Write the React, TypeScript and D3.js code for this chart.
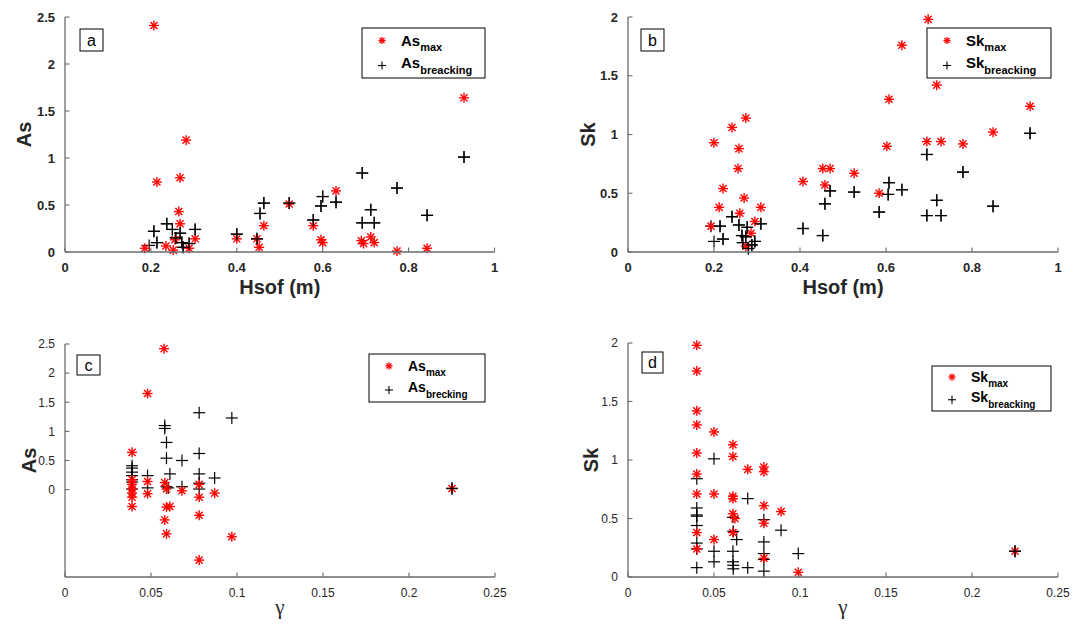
import React from "react";
import * as d3 from "d3";

// Wave asymmetry (As) and skewness (Sk) against offshore wave height and gamma
type Pt = [number, number];

const asMaxHsof: Pt[] = [
  [0.207, 2.41], [0.929, 1.64], [0.282, 1.19], [0.268, 0.79], [0.214, 0.745], [0.631, 0.65],
  [0.522, 0.51], [0.265, 0.43], [0.268, 0.3], [0.463, 0.28], [0.578, 0.28], [0.186, 0.04],
  [0.235, 0.064], [0.252, 0.02], [0.256, 0.13], [0.289, 0.04], [0.303, 0.14], [0.4, 0.14],
  [0.447, 0.14], [0.452, 0.05], [0.596, 0.13], [0.6, 0.1], [0.69, 0.12], [0.695, 0.09],
  [0.712, 0.16], [0.72, 0.1], [0.773, 0.01], [0.843, 0.04],
];
const asBreakHsof: Pt[] = [
  [0.196, 0.07], [0.207, 0.22], [0.214, 0.1], [0.237, 0.3], [0.25, 0.24], [0.258, 0.15],
  [0.268, 0.2], [0.272, 0.1], [0.275, 0.05], [0.289, 0.09], [0.303, 0.24], [0.4, 0.19],
  [0.447, 0.14], [0.454, 0.41], [0.463, 0.52], [0.522, 0.52], [0.578, 0.34], [0.596, 0.49],
  [0.6, 0.59], [0.631, 0.53], [0.692, 0.84], [0.712, 0.45], [0.692, 0.31], [0.72, 0.31],
  [0.773, 0.68], [0.843, 0.39], [0.929, 1.01],
];

const skMaxHsof: Pt[] = [
  [0.274, 1.14], [0.242, 1.06], [0.2, 0.93], [0.258, 0.88], [0.256, 0.71], [0.221, 0.54],
  [0.27, 0.46], [0.212, 0.38], [0.309, 0.38], [0.26, 0.33], [0.295, 0.26], [0.193, 0.22],
  [0.286, 0.16], [0.274, 0.05], [0.407, 0.6], [0.453, 0.71], [0.47, 0.71], [0.458, 0.57],
  [0.698, 1.98], [0.637, 1.76], [0.718, 1.42], [0.607, 1.3], [0.935, 1.24], [0.849, 1.02],
  [0.602, 0.9], [0.695, 0.94], [0.728, 0.94], [0.779, 0.92], [0.526, 0.67], [0.584, 0.5],
];
const skBreakHsof: Pt[] = [
  [0.935, 1.01], [0.695, 0.83], [0.779, 0.68], [0.526, 0.51], [0.607, 0.59], [0.605, 0.49],
  [0.637, 0.53], [0.584, 0.34], [0.718, 0.44], [0.695, 0.31], [0.728, 0.31], [0.849, 0.39],
  [0.47, 0.52], [0.458, 0.41], [0.407, 0.2], [0.453, 0.14], [0.242, 0.3], [0.258, 0.23],
  [0.214, 0.22], [0.193, 0.22], [0.277, 0.21], [0.309, 0.24], [0.265, 0.14], [0.274, 0.13],
  [0.2, 0.09], [0.221, 0.11], [0.267, 0.08], [0.288, 0.06], [0.295, 0.09], [0.28, 0.03],
];

const asMaxGamma: Pt[] = [
  [0.0576, 2.42], [0.048, 1.65], [0.039, 0.64], [0.039, 0.17], [0.039, 0.09], [0.039, 0.01],
  [0.039, -0.06], [0.039, -0.13], [0.039, -0.29], [0.048, 0.14], [0.048, -0.07], [0.058, 0.12],
  [0.059, 0.01], [0.059, -0.3], [0.061, -0.29], [0.058, -0.52], [0.059, -0.76], [0.068, -0.02],
  [0.078, 0.09], [0.078, -0.13], [0.078, -0.44], [0.078, -1.21], [0.087, -0.06], [0.097, -0.81],
  [0.225, 0.02],
];
const asBreakGamma: Pt[] = [
  [0.039, 0.41], [0.039, 0.37], [0.039, 0.3], [0.039, 0.24], [0.039, 0.17], [0.039, 0.13],
  [0.039, 0.01], [0.048, 0.24], [0.048, 0.03], [0.058, 1.1], [0.058, 1.05], [0.059, 0.81],
  [0.059, 0.54], [0.061, 0.27], [0.059, 0.05], [0.06, 0.03], [0.068, 0.5], [0.068, 0.05],
  [0.078, 1.32], [0.078, 0.62], [0.078, 0.27], [0.078, 0.11], [0.078, 0.01], [0.087, 0.2],
  [0.097, 1.23], [0.225, 0.02],
];

const skMaxGamma: Pt[] = [
  [0.04, 1.98], [0.04, 1.76], [0.04, 1.42], [0.04, 1.3], [0.04, 1.06], [0.04, 0.88],
  [0.04, 0.71], [0.04, 0.38], [0.04, 0.24], [0.05, 1.24], [0.05, 0.71], [0.05, 0.32],
  [0.061, 1.13], [0.061, 1.03], [0.061, 0.69], [0.061, 0.67], [0.061, 0.54], [0.0622, 0.5],
  [0.061, 0.38], [0.0696, 0.92], [0.079, 0.94], [0.079, 0.9], [0.079, 0.61], [0.079, 0.46],
  [0.079, 0.16], [0.089, 0.56], [0.099, 0.04], [0.225, 0.22],
];
const skBreakGamma: Pt[] = [
  [0.04, 0.84], [0.04, 0.59], [0.04, 0.53], [0.04, 0.52], [0.04, 0.44], [0.04, 0.29],
  [0.04, 0.24], [0.04, 0.08], [0.05, 1.01], [0.05, 0.22], [0.05, 0.13], [0.061, 0.51],
  [0.0612, 0.39], [0.0632, 0.32], [0.061, 0.22], [0.061, 0.13], [0.0612, 0.1], [0.0612, 0.07],
  [0.0696, 0.67], [0.0696, 0.08], [0.079, 0.49], [0.079, 0.3], [0.079, 0.2], [0.079, 0.15],
  [0.079, 0.05], [0.089, 0.4], [0.099, 0.2], [0.225, 0.22],
];

const hsofTicks = [0, 0.2, 0.4, 0.6, 0.8, 1];
const gammaTicks = [0, 0.05, 0.1, 0.15, 0.2, 0.25];
const asTicks = [0, 0.5, 1, 1.5, 2, 2.5];
const skTicks = [0, 0.5, 1, 1.5, 2];

const FONT = "'Liberation Sans', Arial, Helvetica, sans-serif";
const SERIF = "'Liberation Serif', 'Times New Roman', serif";
const AXIS = "#6b6b6b";
const TEXT = "#262626";

function Star({ x, y, r = 5, w = 1.4 }: { x: number; y: number; r?: number; w?: number }) {
  const d = r * Math.SQRT1_2;
  return (
    <g stroke="#ff0000" strokeWidth={w}>
      <line x1={x - r} y1={y} x2={x + r} y2={y} />
      <line x1={x} y1={y - r} x2={x} y2={y + r} />
      <line x1={x - d} y1={y - d} x2={x + d} y2={y + d} />
      <line x1={x - d} y1={y + d} x2={x + d} y2={y - d} />
    </g>
  );
}

function Plus({ x, y, r = 6, w = 1.2 }: { x: number; y: number; r?: number; w?: number }) {
  return (
    <g stroke="#000" strokeWidth={w}>
      <line x1={x - r} y1={y} x2={x + r} y2={y} />
      <line x1={x} y1={y - r} x2={x} y2={y + r} />
    </g>
  );
}

interface PanelProps {
  left: number; right: number; top: number; bottom: number;
  xDomain: [number, number]; yDomain: [number, number];
  xTicks: number[]; yTicks: number[];
  boldTicks: boolean; tickSize: number;
  xLabel: string; xLabelBold: boolean; xLabelSize: number; xLabelY: number; xLabelFont: string;
  yLabel: string; yLabelX: number;
  letter: string; letterBox: [number, number, number, number];
  maxPts: Pt[]; breakPts: Pt[];
  legendBox: [number, number, number, number];
  legendName: string; legendBreak: string; legendFont: number;
}

function Panel(p: PanelProps) {
  const x = d3.scaleLinear().domain(p.xDomain).range([p.left, p.right]);
  const y = d3.scaleLinear().domain(p.yDomain).range([p.bottom, p.top]);
  const fw = p.boldTicks ? 700 : 400;
  const fmt = (v: number) => String(v);
  const [lx, ly, lw, lh] = p.legendBox;
  const [bx, by, bw, bh] = p.letterBox;
  const row1 = ly + lh * 0.29;
  const row2 = ly + lh * 0.75;
  const mx = lx + 20;
  const tx = lx + 39;
  const sub = Math.round(p.legendFont * 0.72);
  return (
    <g fontFamily={FONT}>
      {/* markers */}
      <g>
        {p.breakPts.map((d, i) => (
          <Plus key={"b" + i} x={x(d[0])} y={y(d[1])} />
        ))}
        {p.maxPts.map((d, i) => (
          <Star key={"m" + i} x={x(d[0])} y={y(d[1])} />
        ))}
        {p.breakPts
          .filter((d) => d[0] > 0.2)
          .map((d, i) => (
            <Plus key={"o" + i} x={x(d[0])} y={y(d[1])} />
          ))}
      </g>
      {/* axes */}
      <line x1={p.left} y1={p.bottom} x2={p.right} y2={p.bottom} stroke={AXIS} strokeWidth={1.3} />
      <line x1={p.left} y1={p.bottom} x2={p.left} y2={p.top} stroke={AXIS} strokeWidth={1.3} />
      {p.xTicks.map((t) => (
        <g key={"xt" + t}>
          <line x1={x(t)} y1={p.bottom} x2={x(t)} y2={p.bottom - 4.5} stroke={AXIS} strokeWidth={1.1} />
          <text x={x(t)} y={p.bottom + 20} textAnchor="middle" fontSize={p.tickSize} fontWeight={fw} fill={TEXT}>
            {fmt(t)}
          </text>
        </g>
      ))}
      {p.yTicks.map((t) => (
        <g key={"yt" + t}>
          <line x1={p.left} y1={y(t)} x2={p.left + 4.5} y2={y(t)} stroke={AXIS} strokeWidth={1.1} />
          <text x={p.left - 10} y={y(t) + p.tickSize * 0.36} textAnchor="end" fontSize={p.tickSize} fontWeight={fw} fill={TEXT}>
            {fmt(t)}
          </text>
        </g>
      ))}
      <text
        x={(p.left + p.right) / 2}
        y={p.xLabelY}
        textAnchor="middle"
        fontSize={p.xLabelSize}
        fontWeight={p.xLabelBold ? 700 : 400}
        fontFamily={p.xLabelFont}
        fill={TEXT}
      >
        {p.xLabel}
      </text>
      <text
        transform={`translate(${p.yLabelX},${(p.top + p.bottom) / 2}) rotate(-90)`}
        textAnchor="middle"
        fontSize={20}
        fontWeight={700}
        fill={TEXT}
      >
        {p.yLabel}
      </text>
      {/* panel letter */}
      <rect x={bx} y={by} width={bw} height={bh} fill="#fff" stroke="#000" strokeWidth={1} />
      <text x={bx + bw / 2} y={by + bh / 2 + 5.5} textAnchor="middle" fontSize={16} fill="#000">
        {p.letter}
      </text>
      {/* legend */}
      <rect x={lx} y={ly} width={lw} height={lh} fill="#fff" stroke="#000" strokeWidth={1} />
      <Star x={mx} y={row1 - 2} r={3.6} w={1.3} />
      <Plus x={mx} y={row2} r={4} w={1.1} />
      <text x={tx} y={row1 + 3} fontSize={p.legendFont} fontWeight={700} fill="#000">
        {p.legendName}
        <tspan dy={5} fontSize={sub}>max</tspan>
      </text>
      <text x={tx} y={row2 + 2} fontSize={p.legendFont} fontWeight={700} fill="#000">
        {p.legendName}
        <tspan dy={6} fontSize={sub}>{p.legendBreak}</tspan>
      </text>
    </g>
  );
}

export default function App() {
  return (
    <svg
      width={1075}
      height={626}
      style={{ position: "absolute", left: 0, top: 0, background: "#fff" }}
    >
      <rect width={1075} height={626} fill="#fff" />
      <Panel
        left={65} right={494.5} top={17} bottom={252}
        xDomain={[0, 1]} yDomain={[0, 2.5]} xTicks={hsofTicks} yTicks={asTicks}
        boldTicks tickSize={13}
        xLabel="Hsof (m)" xLabelBold xLabelSize={20} xLabelY={294} xLabelFont={FONT}
        yLabel="As" yLabelX={31}
        letter="a" letterBox={[80, 29, 23, 22]}
        maxPts={asMaxHsof} breakPts={asBreakHsof}
        legendBox={[362, 28, 123, 50]} legendName="As" legendBreak="breacking" legendFont={15}
      />
      <Panel
        left={628} right={1058} top={17} bottom={252}
        xDomain={[0, 1]} yDomain={[0, 2]} xTicks={hsofTicks} yTicks={skTicks}
        boldTicks tickSize={13}
        xLabel="Hsof (m)" xLabelBold xLabelSize={20} xLabelY={294} xLabelFont={FONT}
        yLabel="Sk" yLabelX={595}
        letter="b" letterBox={[641, 29, 23, 22]}
        maxPts={skMaxHsof} breakPts={skBreakHsof}
        legendBox={[927, 28, 124, 50]} legendName="Sk" legendBreak="breacking" legendFont={15}
      />
      <Panel
        left={65} right={495} top={344} bottom={577}
        xDomain={[0, 0.25]} yDomain={[-1.5, 2.5]} xTicks={gammaTicks} yTicks={asTicks}
        boldTicks={false} tickSize={12}
        xLabel="γ" xLabelBold={false} xLabelSize={21} xLabelY={614} xLabelFont={SERIF}
        yLabel="As" yLabelX={36}
        letter="c" letterBox={[77, 355, 23, 20]}
        maxPts={asMaxGamma} breakPts={asBreakGamma}
        legendBox={[369, 354, 116, 48]} legendName="As" legendBreak="brecking" legendFont={14}
      />
      <Panel
        left={628} right={1058} top={343} bottom={577}
        xDomain={[0, 0.25]} yDomain={[0, 2]} xTicks={gammaTicks} yTicks={skTicks}
        boldTicks={false} tickSize={12}
        xLabel="γ" xLabelBold={false} xLabelSize={21} xLabelY={614} xLabelFont={SERIF}
        yLabel="Sk" yLabelX={598}
        letter="d" letterBox={[642, 352, 21, 21]}
        maxPts={skMaxGamma} breakPts={skBreakGamma}
        legendBox={[932, 366, 119, 45]} legendName="Sk" legendBreak="breacking" legendFont={14}
      />
    </svg>
  );
}
